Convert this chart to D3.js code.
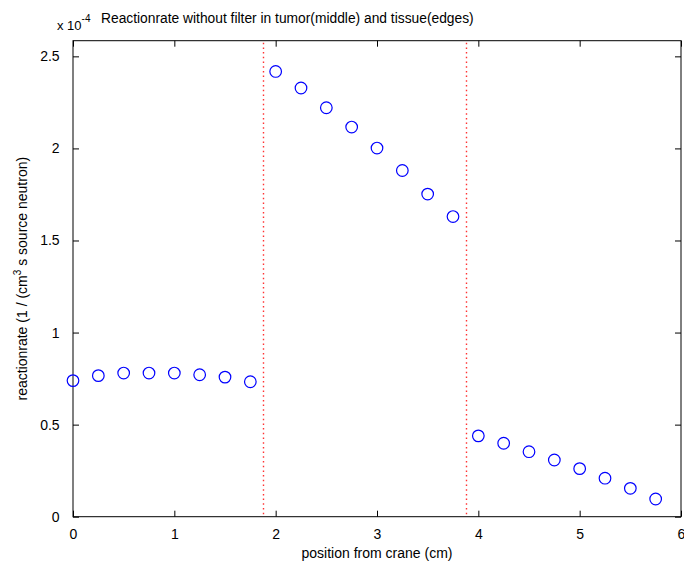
<!DOCTYPE html>
<html>
<head>
<meta charset="utf-8">
<script src="https://cdn.jsdelivr.net/npm/d3@7"></script>
<style>
  html, body { margin: 0; padding: 0; background: #fff; }
  svg text { font-family: "Liberation Sans", Arial, sans-serif; fill: #000; }
</style>
</head>
<body>
<svg id="chart" width="684" height="568"></svg>
<script>
// Positions along the sample (cm)
const positions = [0, 0.25, 0.5, 0.75, 1, 1.25, 1.5, 1.75,
                   2, 2.25, 2.5, 2.75, 3, 3.25, 3.5, 3.75,
                   4, 4.25, 4.5, 4.75, 5, 5.25, 5.5, 5.75];
// Reaction rate in units of 1e-4 per (cm^3 s source neutron)
const reactionRate = [0.739, 0.766, 0.780, 0.780, 0.780, 0.771, 0.758, 0.733,
                      2.418, 2.328, 2.221, 2.116, 2.002, 1.880, 1.752, 1.630,
                      0.439, 0.399, 0.353, 0.308, 0.261, 0.209, 0.154, 0.096];
// Tumor boundaries (cm)
const boundaries = [1.875, 3.875];
const xTicks = [0, 1, 2, 3, 4, 5, 6];
const yTicks = [0, 0.5, 1, 1.5, 2, 2.5];

const svg = d3.select("#chart");
const plotL = 73, plotR = 681, plotT = 40.7, plotB = 516.7;

const x = d3.scaleLinear().domain([0, 6]).range([plotL, plotR]);
const y = d3.scaleLinear().domain([0, 2.585]).range([plotB, plotT]);

// Box
svg.append("rect")
  .attr("x", plotL).attr("y", plotT)
  .attr("width", plotR - plotL).attr("height", plotB - plotT)
  .attr("fill", "none").attr("stroke", "#000").attr("stroke-width", 1);

// Axes with inward ticks
const tickLen = 6;
const xAxis = svg.append("g").attr("transform", `translate(0,${plotB})`)
  .call(d3.axisBottom(x).tickValues(xTicks).tickFormat(d3.format("d"))
        .tickSizeInner(-tickLen).tickSizeOuter(0).tickPadding(12));
const xAxisTop = svg.append("g").attr("transform", `translate(0,${plotT})`)
  .call(d3.axisTop(x).tickValues(xTicks).tickFormat("")
        .tickSizeInner(-tickLen).tickSizeOuter(0));
const yAxis = svg.append("g").attr("transform", `translate(${plotL},0)`)
  .call(d3.axisLeft(y).tickValues(yTicks).tickFormat(d => String(d))
        .tickSizeInner(-tickLen).tickSizeOuter(0).tickPadding(12));
const yAxisRight = svg.append("g").attr("transform", `translate(${plotR},0)`)
  .call(d3.axisRight(y).tickValues(yTicks).tickFormat("")
        .tickSizeInner(-tickLen).tickSizeOuter(0));

[xAxis, xAxisTop, yAxis, yAxisRight].forEach(g => {
  g.select(".domain").remove();
  g.selectAll(".tick line").attr("stroke", "#000");
  g.selectAll("text").attr("font-size", 14)
    .attr("font-family", "Liberation Sans, Arial, sans-serif").attr("fill", "#000");
});
yAxis.selectAll("text").attr("dx", "-0.1em");

// Tumor boundary markers
svg.append("g")
  .selectAll("line").data(boundaries).join("line")
  .attr("x1", d => Math.round(x(d)) + 0.5).attr("x2", d => Math.round(x(d)) + 0.5)
  .attr("y1", plotT + 2).attr("y2", plotB)
  .attr("stroke", "#ff3333").attr("stroke-width", 1.4)
  .attr("stroke-dasharray", "1.5,3.2");

// Data points
svg.append("g").selectAll("circle").data(positions).join("circle")
  .attr("cx", d => x(d))
  .attr("cy", (d, i) => y(reactionRate[i]))
  .attr("r", 5.8)
  .attr("fill", "none").attr("stroke", "#0000ff").attr("stroke-width", 1.2);

// Exponent marker
const expo = svg.append("text").attr("x", 57).attr("y", 30).attr("font-size", 13);
expo.append("tspan").text("x 10");
expo.append("tspan").attr("dy", -8).attr("font-size", 10).text("-4");

// Title
svg.append("text").attr("x", 101).attr("y", 23).attr("font-size", 13.8)
  .text("Reactionrate without filter in tumor(middle) and tissue(edges)");

// X label
svg.append("text").attr("x", (plotL + plotR) / 2).attr("y", 558)
  .attr("text-anchor", "middle").attr("font-size", 14)
  .text("position from crane (cm)");

// Y label
const yl = svg.append("text")
  .attr("transform", `translate(27,${(plotT + plotB) / 2}) rotate(-90)`)
  .attr("text-anchor", "middle").attr("font-size", 14);
yl.append("tspan").text("reactionrate (1 / (cm");
yl.append("tspan").attr("dy", -6).attr("font-size", 10).text("3");
yl.append("tspan").attr("dy", 6).text(" s source neutron)");
</script>
</body>
</html>
